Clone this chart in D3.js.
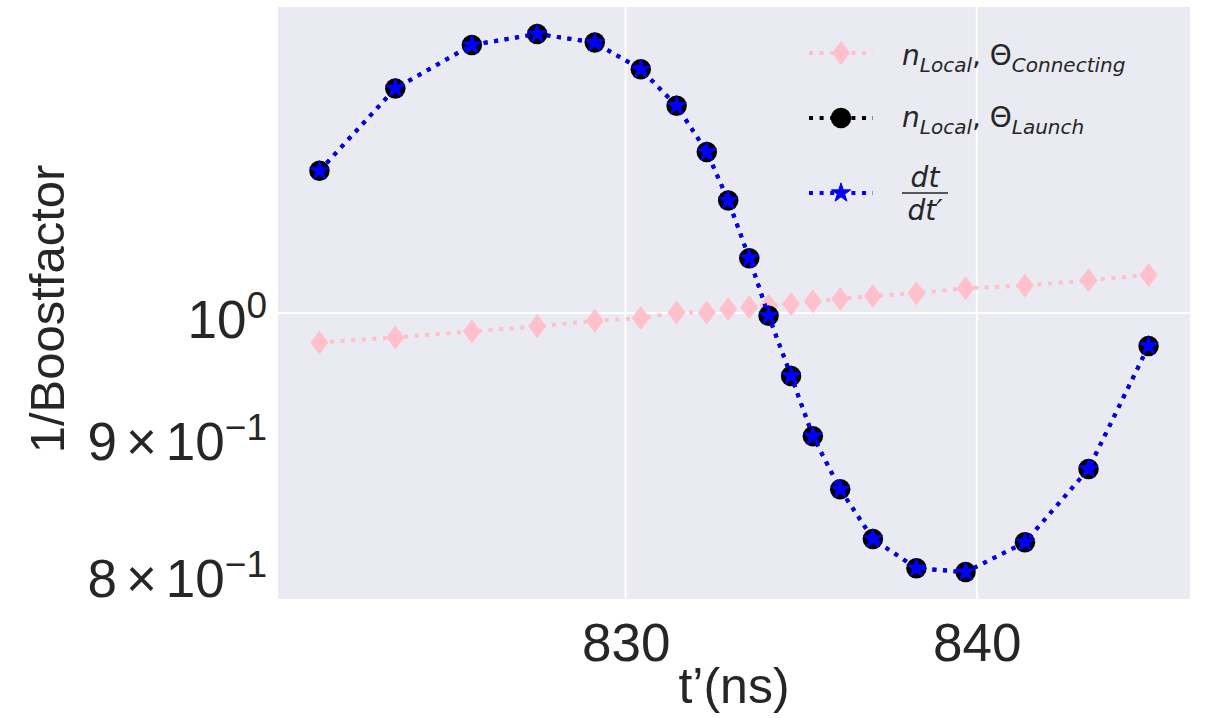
<!DOCTYPE html>
<html>
<head>
<meta charset="utf-8">
<script src="https://cdn.jsdelivr.net/npm/d3@7"></script>
<style>
  body { margin: 0; background: #fff; }
  svg { display: block; }
</style>
</head>
<body>
<script>
// Time axis t'(ns), shared by the three series
var tPrime = [821.28, 823.44, 825.62, 827.48, 829.12, 830.43, 831.45, 832.31, 832.92, 833.52,
              834.07, 834.71, 835.33, 836.11, 837.04, 838.28, 839.68, 841.37, 843.18, 844.89];

// 1/Boostfactor, n_Local with Theta_Connecting (pink diamonds)
var connecting = [0.9750, 0.9792, 0.9843, 0.9886, 0.9934, 0.9957, 1.0004, 1.0004, 1.0035, 1.0049,
                  1.0063, 1.0078, 1.0103, 1.0122, 1.0148, 1.0172, 1.0216, 1.0239, 1.0286, 1.0334];

// 1/Boostfactor, n_Local with Theta_Launch (black circles)
var launch = [1.1303, 1.2135, 1.2597, 1.2718, 1.2624, 1.2336, 1.1955, 1.1489, 1.1019, 1.0484,
              0.9977, 0.9473, 0.8994, 0.8591, 0.8232, 0.8027, 0.8000, 0.8208, 0.8743, 0.9721];

// dt/dt' (blue stars), lies on top of the launch curve
var dtdt = [1.1303, 1.2135, 1.2597, 1.2718, 1.2624, 1.2336, 1.1955, 1.1489, 1.1019, 1.0484,
            0.9977, 0.9473, 0.8994, 0.8591, 0.8232, 0.8027, 0.8000, 0.8208, 0.8743, 0.9721];

var xTicks = [830, 840];
var yTickValues = [1.0, 0.9, 0.8];
var yTickMantissa = ["", "9", "8"];
var yTickExponent = ["0", "\u22121", "\u22121"];

var width = 1205, height = 718;
var plot = { left: 278, top: 7, right: 1190, bottom: 599 };
var tickFont = "'Liberation Sans', Arial, sans-serif";
var mathFont = "'DejaVu Sans', sans-serif";

var svg = d3.select("body").append("svg")
    .attr("width", width)
    .attr("height", height);

svg.append("rect").attr("width", width).attr("height", height).attr("fill", "#fff");

// matplotlib-like 5% margins on both axes
var xExt = d3.extent(tPrime);
var xPad = (xExt[1] - xExt[0]) * 0.05;
var x = d3.scaleLinear()
    .domain([xExt[0] - xPad, xExt[1] + xPad])
    .range([plot.left, plot.right]);

var allY = launch.concat(connecting, dtdt);
var lyMin = Math.log10(d3.min(allY)), lyMax = Math.log10(d3.max(allY));
var lyPad = (lyMax - lyMin) * 0.05;
var y = d3.scaleLog()
    .domain([Math.pow(10, lyMin - lyPad), Math.pow(10, lyMax + lyPad)])
    .range([plot.bottom, plot.top]);

// background + grid
svg.append("rect")
    .attr("x", plot.left).attr("y", plot.top)
    .attr("width", plot.right - plot.left)
    .attr("height", plot.bottom - plot.top)
    .attr("fill", "#EAEAF2");

svg.selectAll(".xgrid").data(xTicks).enter().append("line")
    .attr("x1", function(d) { return x(d); }).attr("x2", function(d) { return x(d); })
    .attr("y1", plot.top).attr("y2", plot.bottom)
    .attr("stroke", "#fff").attr("stroke-width", 2);

svg.append("line")
    .attr("x1", plot.left).attr("x2", plot.right)
    .attr("y1", y(1)).attr("y2", y(1))
    .attr("stroke", "#fff").attr("stroke-width", 2);

// x axis
var xAxis = svg.append("g")
    .attr("transform", "translate(0," + plot.bottom + ")")
    .call(d3.axisBottom(x).tickValues(xTicks).tickSize(0).tickPadding(24).tickFormat(d3.format("d")));
xAxis.select(".domain").remove();
xAxis.selectAll("text")
    .attr("font-family", tickFont).attr("font-size", 53).attr("fill", "#262626");

// y axis, with mathtext style labels
var yAxis = svg.append("g")
    .attr("transform", "translate(" + (plot.left - 11) + ",0)")
    .call(d3.axisLeft(y).tickValues(yTickValues).tickSize(0).tickFormat(""));
yAxis.select(".domain").remove();
yAxis.selectAll(".tick text").remove();
yAxis.selectAll(".tick").each(function(d, i) {
  var t = d3.select(this).append("text")
      .attr("x", 0).attr("y", 24)
      .attr("text-anchor", "end")
      .attr("font-family", tickFont).attr("font-size", 53).attr("fill", "#262626");
  if (yTickMantissa[i]) {
    t.append("tspan").text(yTickMantissa[i]);
    t.append("tspan").attr("dx", 9).text("\u00d7");
    t.append("tspan").attr("dx", 9).text("10");
  } else {
    t.append("tspan").text("10");
  }
  t.append("tspan").attr("dy", -20).attr("font-size", 37).text(yTickExponent[i]);
});

// axis labels
svg.append("text")
    .attr("x", (plot.left + plot.right) / 2).attr("y", 703)
    .attr("text-anchor", "middle")
    .attr("font-family", tickFont).attr("font-size", 50).attr("fill", "#262626")
    .text("t\u2019(ns)");

svg.append("text")
    .attr("transform", "translate(64," + ((plot.top + plot.bottom) / 2 + 6) + ") rotate(-90)")
    .attr("text-anchor", "middle")
    .attr("font-family", tickFont).attr("font-size", 49).attr("fill", "#262626")
    .text("1/Boostfactor");

// series
var line = d3.line()
    .x(function(d) { return x(d[0]); })
    .y(function(d) { return y(d[1]); });

var diamond = "M0,-12L9,0L0,12L-9,0Z";
var star = d3.symbol().type(d3.symbolStar).size(115);
var circle = d3.symbol().type(d3.symbolCircle).size(330);

var series = [
  { name: "connecting", values: connecting, color: "pink", marker: diamond, edge: 0 },
  { name: "launch", values: launch, color: "#000", marker: circle(), edge: 0 },
  { name: "dtdt", values: dtdt, color: "#0000ff", marker: star(), edge: 1 }
];

series.forEach(function(s) {
  var pts = d3.zip(tPrime, s.values);
  svg.append("path")
      .datum(pts)
      .attr("d", line)
      .attr("fill", "none")
      .attr("stroke", s.color)
      .attr("stroke-width", 4)
      .attr("stroke-dasharray", "4,6.6");
  svg.selectAll(".m-" + s.name).data(pts).enter().append("path")
      .attr("class", "m-" + s.name)
      .attr("transform", function(d) { return "translate(" + x(d[0]) + "," + y(d[1]) + ")"; })
      .attr("d", s.marker)
      .attr("fill", s.color)
      .attr("stroke", s.edge ? s.color : "none")
      .attr("stroke-width", s.edge);
});

// legend (no frame)
var legendRows = [53, 118, 193];
var legend = svg.append("g");
series.forEach(function(s, i) {
  var g = legend.append("g").attr("transform", "translate(0," + legendRows[i] + ")");
  g.append("line")
      .attr("x1", 809).attr("x2", 873)
      .attr("stroke", s.color).attr("stroke-width", 4)
      .attr("stroke-dasharray", "4,6.6");
  g.append("path")
      .attr("transform", "translate(841,0)")
      .attr("d", s.marker)
      .attr("fill", s.color)
      .attr("stroke", s.edge ? s.color : "none")
      .attr("stroke-width", s.edge);
});

function nLocalLabel(yBase, sub) {
  var t = legend.append("text")
      .attr("x", 902).attr("y", yBase)
      .attr("font-family", mathFont).attr("font-size", 28).attr("fill", "#262626");
  t.append("tspan").attr("font-style", "italic").text("n");
  t.append("tspan").attr("font-style", "italic").attr("font-size", 20).attr("dy", 7).text("Local");
  t.append("tspan").attr("dy", -7).text(", \u0398");
  t.append("tspan").attr("font-style", "italic").attr("font-size", 20).attr("dy", 7).text(sub);
}
nLocalLabel(65, "Connecting");
nLocalLabel(127, "Launch");

legend.append("text")
    .attr("x", 925).attr("y", 187)
    .attr("text-anchor", "middle")
    .attr("font-family", mathFont).attr("font-size", 28).attr("font-style", "italic")
    .attr("fill", "#262626")
    .text("dt");
legend.append("line")
    .attr("x1", 902).attr("x2", 948)
    .attr("y1", 193).attr("y2", 193)
    .attr("stroke", "#262626").attr("stroke-width", 1.6);
legend.append("text")
    .attr("x", 925).attr("y", 220)
    .attr("text-anchor", "middle")
    .attr("font-family", mathFont).attr("font-size", 28).attr("font-style", "italic")
    .attr("fill", "#262626")
    .text("dt\u2032");
</script>
</body>
</html>
